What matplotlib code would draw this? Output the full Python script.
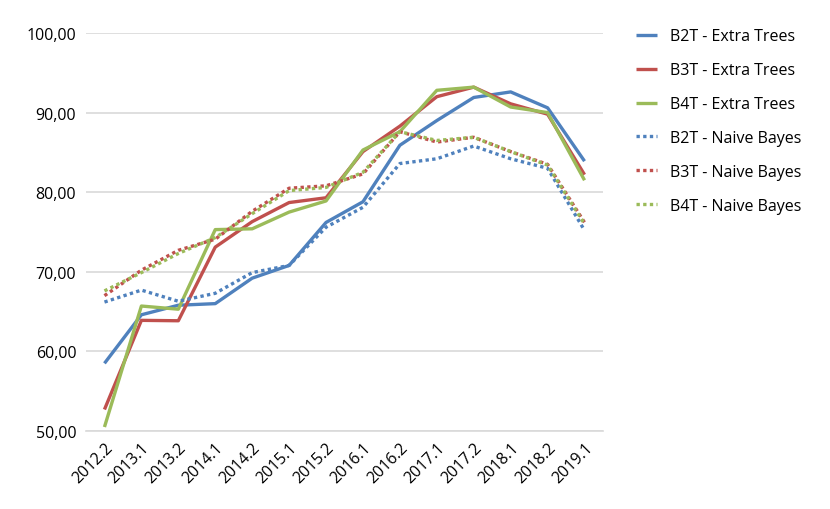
import matplotlib
matplotlib.use("Agg")
import matplotlib.pyplot as plt

periods = ["2012.2", "2013.1", "2013.2", "2014.1", "2014.2", "2015.1", "2015.2",
           "2016.1", "2016.2", "2017.1", "2017.2", "2018.1", "2018.2", "2019.1"]

b2t_et = [58.5, 64.6, 65.8, 66.0, 69.2, 70.8, 76.2, 78.8, 85.9, 89.0, 91.9, 92.6, 90.6, 83.9]
b3t_et = [52.7, 63.9, 63.85, 73.1, 76.3, 78.7, 79.3, 85.1, 88.3, 92.0, 93.2, 91.1, 89.8, 82.2]
b4t_et = [50.5, 65.7, 65.3, 75.3, 75.4, 77.5, 78.9, 85.3, 87.6, 92.8, 93.2, 90.7, 90.0, 81.5]
b2t_nb = [66.2, 67.7, 66.3, 67.3, 69.9, 70.8, 75.6, 78.1, 83.6, 84.2, 85.8, 84.2, 83.0, 75.2]
b3t_nb = [67.0, 70.2, 72.7, 74.1, 77.6, 80.5, 80.8, 82.3, 87.6, 86.3, 86.9, 85.1, 83.5, 76.2]
b4t_nb = [67.6, 69.9, 72.3, 74.3, 77.3, 80.2, 80.6, 82.5, 87.6, 86.5, 86.9, 85.1, 83.4, 76.0]

series = [
    ("B2T - Extra Trees", b2t_et, "#4F81BD", "-"),
    ("B3T - Extra Trees", b3t_et, "#C0504D", "-"),
    ("B4T - Extra Trees", b4t_et, "#9BBB59", "-"),
    ("B2T - Naive Bayes", b2t_nb, "#4F81BD", (0, (1, 1))),
    ("B3T - Naive Bayes", b3t_nb, "#C0504D", (0, (1, 1))),
    ("B4T - Naive Bayes", b4t_nb, "#9BBB59", (0, (1, 1))),
]

plt.rcParams['font.family'] = ['Open Sans', 'DejaVu Sans']
FS = 11.5

fig = plt.figure(figsize=(8.3, 5.1), dpi=100)
ax = fig.add_axes([86/830, 1-432/510, (603-86)/830, (432-34)/510])

x = list(range(len(periods)))
for name, vals, color, ls in series:
    ax.plot(x, vals, color=color, linestyle=ls, linewidth=2.4, label=name,
            solid_capstyle='butt', dash_capstyle='butt')

ax.set_xlim(-0.5, len(periods) - 0.5)
ax.set_ylim(50, 100)
yt = [50, 60, 70, 80, 90, 100]
ax.set_yticks(yt)
ax.set_yticklabels([f"{v:.2f}".replace('.', ',') for v in yt], fontsize=FS)
ax.set_xticks(x)
ax.set_xticklabels(periods, rotation=45, ha='right', rotation_mode='anchor', fontsize=FS)
ax.grid(axis='y', color='#D9D9D9', linewidth=1.2)
ax.set_axisbelow(True)
for s in ['top', 'right', 'left']:
    ax.spines[s].set_visible(False)
ax.spines['bottom'].set_color('#D9D9D9')
ax.spines['bottom'].set_linewidth(1.2)
ax.tick_params(axis='y', length=0, pad=7)
ax.tick_params(axis='x', length=0, pad=6)

leg = fig.legend(loc='upper left', bbox_to_anchor=(622/830, 1-15/510), frameon=False,
                 fontsize=FS, handlelength=1.3, labelspacing=1.12, handletextpad=0.8)

fig.savefig("out.png", dpi=100)
